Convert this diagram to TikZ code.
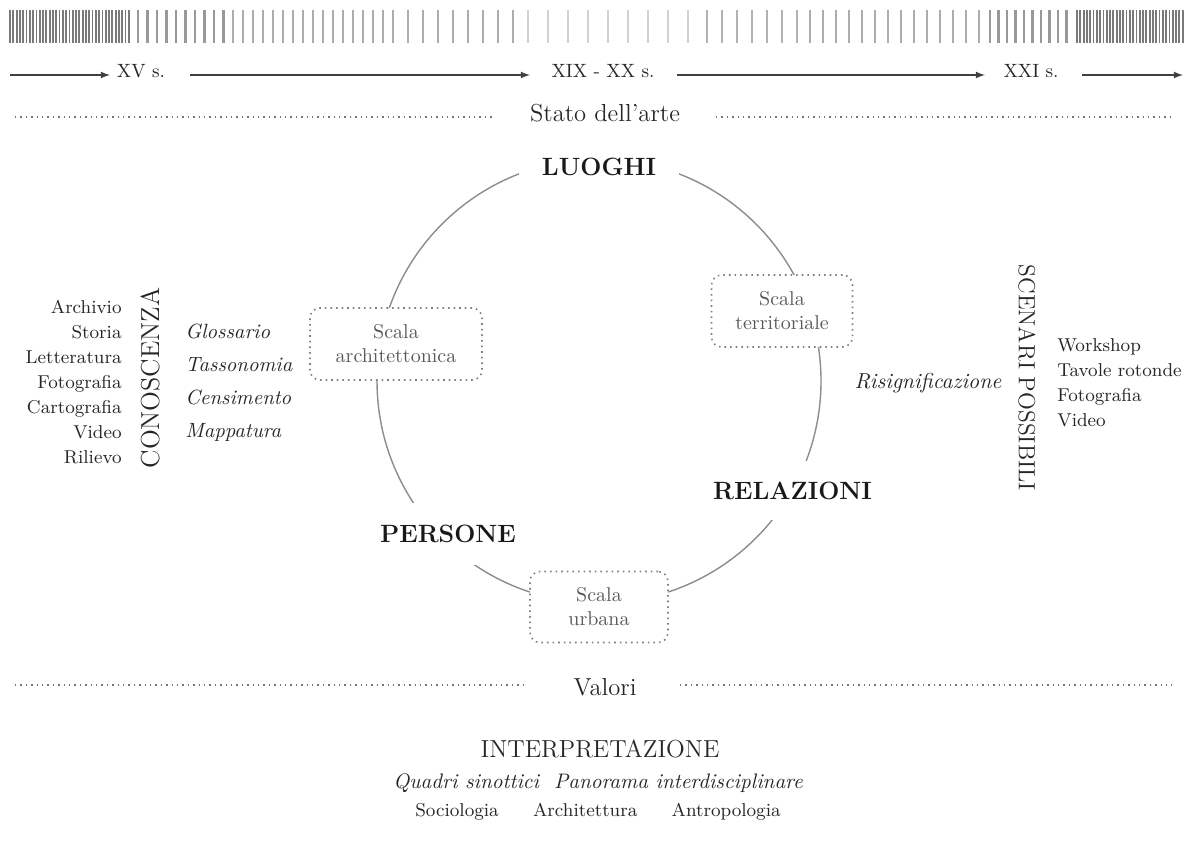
\documentclass[tikz,border=0pt]{standalone}
\usetikzlibrary{positioning}

\tikzset{
	stripe/.style = {line width=1.1pt},
	era/.style = {font=\fontsize{9.6}{11}\selectfont, text=black!85, inner sep=0pt},
	timeline/.style = {-latex, line width=0.6pt, black!75},
	sep/.style = {dotted, line width=0.7pt, black!55},
	heading/.style = {font=\fontsize{12.3}{14}\selectfont, text=black!85},
	ring/.style = {line width=0.7pt, black!45},
	pole/.style = {font=\bfseries\fontsize{12.5}{14}\selectfont, text=black!90, fill=white},
	scalebox/.style = {draw=black!50, dotted, line width=0.8pt, rounded corners=5pt,
		fill=white, text=black!65, align=center, font=\fontsize{10}{12}\selectfont},
	listing/.style = {font=\fontsize{9.3}{12.5}\selectfont, text=black!85, inner sep=0pt},
	method/.style = {font=\itshape\fontsize{10.3}{16.5}\selectfont, text=black!85, inner sep=0pt}
}

\begin{document}
\begin{tikzpicture}[x=0.5pt, y=-0.5pt]
	\useasboundingbox (0, 0) rectangle (1186, 842);

	% barra dei secoli
	\foreach \x in {10, 13.3, ..., 130} \draw [stripe, line width=0.9pt, black!52] (\x, 10) -- (\x, 43);
	\foreach \x in {138, 147.5, ..., 226} \draw [stripe, black!40] (\x, 10) -- (\x, 43);
	\foreach \x in {233, 243, ..., 399} \draw [stripe, black!32] (\x, 10) -- (\x, 43);
	\foreach \x in {408, 423, ..., 514} \draw [stripe, black!32] (\x, 10) -- (\x, 43);
	\foreach \x in {528, 548, ..., 689} \draw [stripe, black!18] (\x, 10) -- (\x, 43);
	\foreach \x in {707, 722, ..., 798} \draw [stripe, black!30] (\x, 10) -- (\x, 43);
	\foreach \x in {810, 823, ..., 981} \draw [stripe, black!32] (\x, 10) -- (\x, 43);
	\foreach \x in {990, 998.5, ..., 1073} \draw [stripe, black!40] (\x, 10) -- (\x, 43);
	\foreach \x in {1077, 1080.3, ..., 1184} \draw [stripe, line width=0.9pt, black!52] (\x, 10) -- (\x, 43);

	\node [era] (xv) at (141, 71) {XV s.};
	\node [era] (xix) at (603, 71) {XIX - XX s.};
	\node [era] (xxi) at (1031, 71) {XXI s.};
	\coordinate (t0) at (10, 75);
	\coordinate (t1) at (110, 75);
	\coordinate (t2) at (190, 75);
	\coordinate (t3) at (530, 75);
	\coordinate (t4) at (677, 75);
	\coordinate (t5) at (985, 75);
	\coordinate (t6) at (1082, 75);
	\coordinate (t7) at (1183, 75);
	\draw [timeline] (t0) -- (t1);
	\draw [timeline] (t2) -- (t3);
	\draw [timeline] (t4) -- (t5);
	\draw [timeline] (t6) -- (t7);

	% stato dell'arte
	\node [heading] (stato) at (605, 113) {Stato dell'arte};
	\coordinate (s0) at (15, 117);
	\coordinate (s1) at (493, 117);
	\coordinate (s2) at (716, 117);
	\coordinate (s3) at (1172, 117);
	\draw [sep] (s0) -- (s1);
	\draw [sep] (s2) -- (s3);

	% cerchio
	\coordinate (centro) at (599, 381);
	\draw [ring] (centro) circle [radius=222];
	\node [pole, minimum width=80pt] (luoghi) at (599, 167) {LUOGHI};
	\node [pole, minimum width=87.5pt, minimum height=29.5pt] (relazioni) at (792.5, 490.5) {RELAZIONI};
	\node [pole, minimum width=72.5pt, minimum height=31pt] (persone) at (448, 534) {PERSONE};
	\node [scalebox, minimum width=86pt, minimum height=36pt] (architettonica) at (396, 344) {Scala\\architettonica};
	\node [scalebox, minimum width=70.5pt, minimum height=36pt] (territoriale) at (782, 311) {Scala\\territoriale};
	\node [scalebox, minimum width=69pt, minimum height=35.5pt] (urbana) at (599, 607) {Scala\\urbana};

	% conoscenza
	\node [listing, align=right, anchor=east] (fonti) at (122, 382)
		{Archivio\\Storia\\Letteratura\\Fotografia\\Cartografia\\Video\\Rilievo};
	\node [font=\fontsize{13}{15}\selectfont, text=black!85, rotate=90, inner sep=0pt] (conoscenza) at (150, 378) {CONOSCENZA};
	\node [method, align=left, anchor=west] (strumenti) at (185, 382.5)
		{Glossario\\Tassonomia\\Censimento\\Mappatura};

	% scenari
	\node [font=\itshape\fontsize{10.8}{13}\selectfont, text=black!85, inner sep=0pt] (risig) at (928, 383) {Risignificazione};
	\node [font=\fontsize{11.7}{14}\selectfont, text=black!85, rotate=-90, inner sep=0pt] (scenari) at (1027, 378) {SCENARI POSSIBILI};
	\node [listing, align=left, anchor=west] (azioni) at (1057, 382.5)
		{Workshop\\Tavole rotonde\\Fotografia\\Video};

	% valori
	\node [heading] (valori) at (605, 687) {Valori};
	\coordinate (v0) at (15, 685);
	\coordinate (v1) at (525, 685);
	\coordinate (v2) at (680, 685);
	\coordinate (v3) at (1172, 685);
	\draw [sep] (v0) -- (v1);
	\draw [sep] (v2) -- (v3);

	% interpretazione
	\node [heading] (interp) at (600, 749) {INTERPRETAZIONE};
	\node [font=\itshape\fontsize{10.5}{13}\selectfont, text=black!85] (quadri) at (598, 783)
		{Quadri sinottici\ \ Panorama interdisciplinare};
	\node [listing] (discipline) at (598, 812)
		{Sociologia\hspace{14pt} Architettura\hspace{14pt} Antropologia};
\end{tikzpicture}
\end{document}
